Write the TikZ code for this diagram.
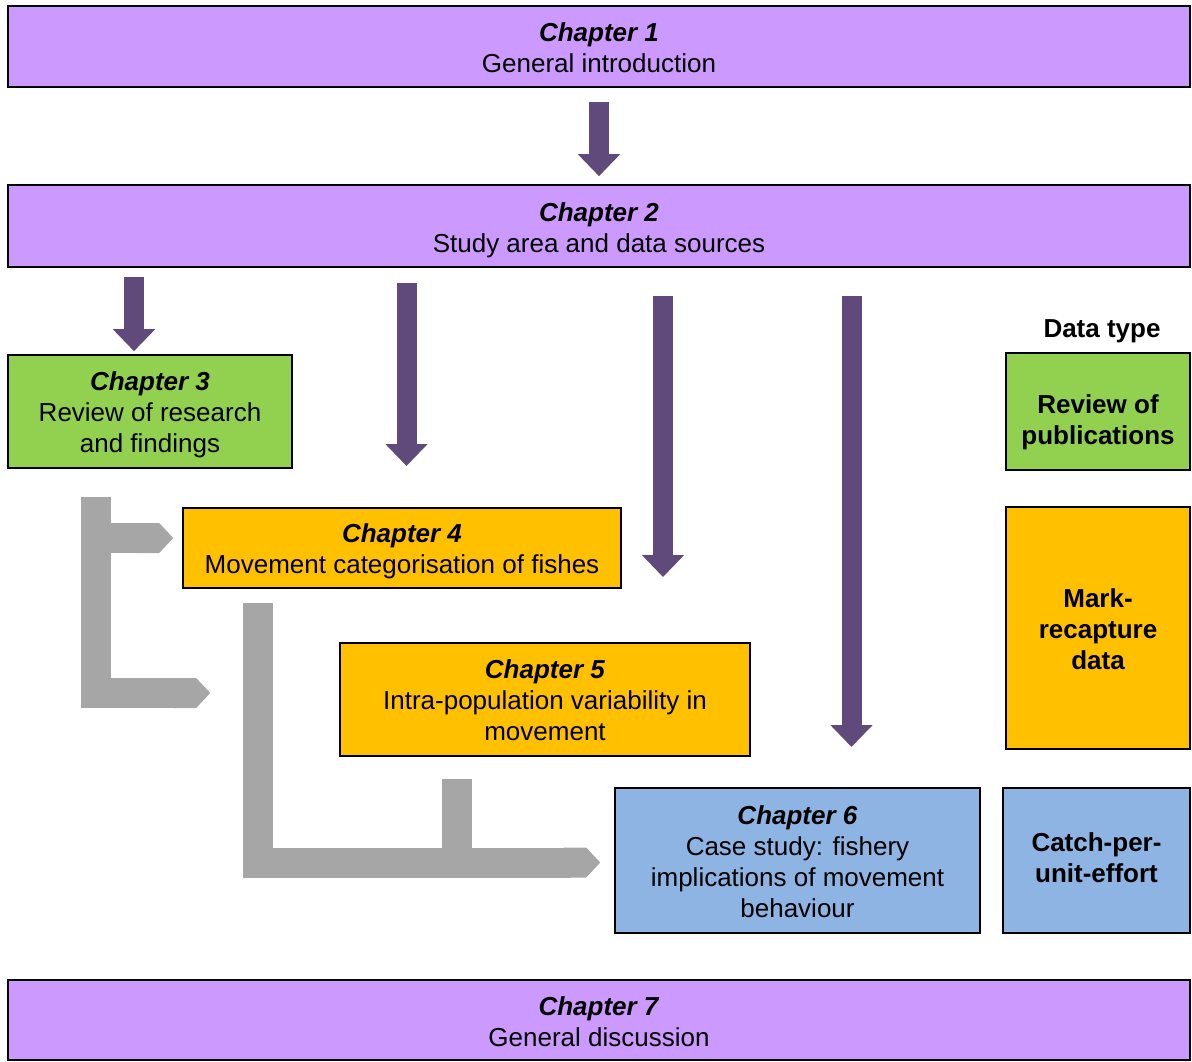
\documentclass[tikz,border=0pt]{standalone}
\usepackage{fontspec}
\setmainfont{Liberation Sans}
\usetikzlibrary{arrows.meta,positioning,calc}
\definecolor{chpurple}{RGB}{204,153,255}
\definecolor{chgreen}{RGB}{146,208,80}
\definecolor{chorange}{RGB}{255,192,0}
\definecolor{chblue}{RGB}{142,180,227}
\definecolor{arrpurple}{RGB}{96,74,123}
\definecolor{arrgrey}{RGB}{166,166,166}
\newcommand{\chaptitle}[1]{\textbf{\textit{Chapter #1}}}
% lines of a box, lowered a little inside the box
\newcommand{\boxtext}[2][2pt]{\raisebox{-#1}[\height][\depth]{\begin{tabular}{@{}c@{}}#2\end{tabular}}}

\begin{document}
\begin{tikzpicture}[x=0.5pt, y=-0.5pt,
   box/.style={draw, line width=0.8pt, align=center, inner sep=0pt,
      font=\fontsize{13}{15.5}\selectfont},
   wide/.style={box, fill=chpurple, minimum width=591pt},
   datatype/.style={box, font=\fontsize{13}{15.5}\selectfont\bfseries},
   flow/.style={arrpurple, line width=10pt, -{Triangle[width=20.5pt,length=11pt]}},
   feed/.style={arrgrey, line width=15pt, -{Triangle Cap[length=7pt]}}]
   \useasboundingbox (0,0) rectangle (1192,1061);
   % chapters
   \node (ch1) at (599,46.5) [wide, minimum height=40.5pt] {\boxtext{\chaptitle{1}\\General introduction}};
   \node (ch2) at (599,226) [wide, minimum height=41pt] {\boxtext[2.4pt]{\chaptitle{2}\\Study area and data sources}};
   \node (ch3) at (150,411.5) [box, fill=chgreen, minimum width=142pt, minimum height=56.5pt] {\boxtext{\chaptitle{3}\\Review of research\\and findings}};
   \node (ch4) at (402,548) [box, fill=chorange, minimum width=219pt, minimum height=40pt] {\boxtext{\chaptitle{4}\\Movement categorisation of fishes}};
   \node (ch5) at (545,699.5) [box, fill=chorange, minimum width=205pt, minimum height=56.5pt] {\boxtext{\chaptitle{5}\\Intra-population variability in\\movement}};
   \node (ch6) at (797.5,860.5) [box, fill=chblue, minimum width=182.5pt, minimum height=72.5pt] {\boxtext{\chaptitle{6}\\Case study: fishery\\implications of movement\\behaviour}};
   \node (ch7) at (599,1020) [wide, minimum height=40pt] {\boxtext[2.6pt]{\chaptitle{7}\\General discussion}};
   % data types
   \node (dt) at (1102,331.5) [font=\fontsize{13}{15.5}\selectfont\bfseries] {Data type};
   \node (rev) at (1098,411.5) [datatype, fill=chgreen, minimum width=92pt, minimum height=58.5pt] {\boxtext[5.4pt]{Review of\\publications}};
   \node (mark) at (1098,628) [datatype, fill=chorange, minimum width=92pt, minimum height=121pt] {\boxtext{Mark-\\recapture\\data}};
   \node (cpue) at (1096.5,860.5) [datatype, fill=chblue, minimum width=93.5pt, minimum height=72.5pt] {\boxtext[0.2pt]{Catch-per-\\unit-effort}};
   % purple arrows from chapter 2
   \coordinate (e4) at (406.5,466);
   \coordinate (e5) at (663,577);
   \coordinate (e6) at (851.5,747);
   \draw[flow] ([yshift=-7pt]ch1.south) -- ([yshift=4pt]ch2.north);
   \draw[flow] ($(ch3.north)+(-16,-77)$) -- ($(ch3.north)+(-16,-3)$);
   \draw[flow] ($(ch2.south -| e4)+(0,15)$) -- (e4);
   \draw[flow] ($(ch2.south -| e5)+(0,28)$) -- (e5);
   \draw[flow] ($(ch2.south -| e6)+(0,28)$) -- (e6);
   % grey links between chapters
   \coordinate (j1) at (96,497);
   \coordinate (j2) at (258,603);
   \coordinate (j3) at (457,779);
   \draw[feed] (j1) |- ($(ch5.west)+(-129,-6.5)$);
   \draw[feed] (j1 |- 0,538) -- ($(ch4.west)+(-9,-10)$);
   \draw[feed] (j2) |- ($(ch6.west)+(-14,2)$);
   \draw[feed, -] (j3) -- (j3 |- ch6.west);
\end{tikzpicture}
\end{document}
